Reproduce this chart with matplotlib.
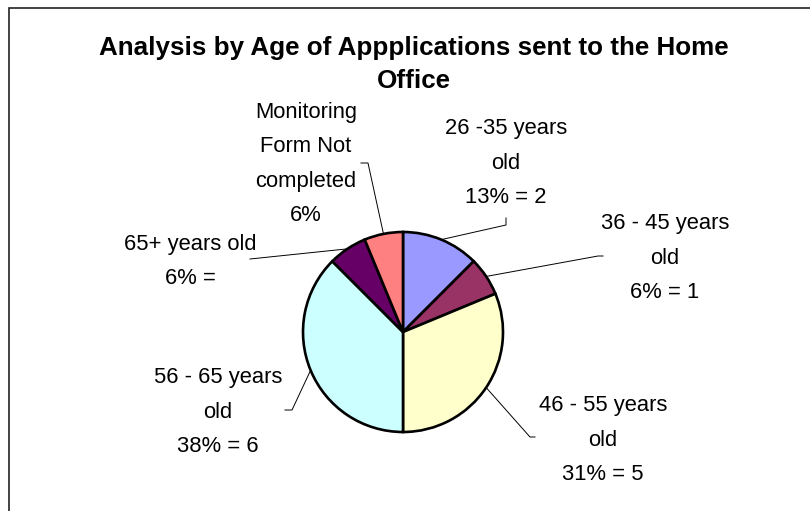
import numpy as np
import matplotlib
matplotlib.use("Agg")
import matplotlib.pyplot as plt

plt.rcParams['font.family'] = ['Liberation Sans', 'DejaVu Sans']

# data
groups = ['26 -35 years\nold', '36 - 45 years\nold', '46 - 55 years\nold',
          '56 - 65 years\nold', '65+ years old', 'Monitoring\nForm Not\ncompleted']
counts = [2, 1, 5, 6, 1, 1]
pct_text = ['13% = 2', '6% = 1', '31% = 5', '38% = 6', '6% =', '6%']
colors = ['#9999FF', '#993366', '#FFFFCC', '#CCFFFF', '#660066', '#FF8080']

title = 'Analysis by Age of Appplications sent to the Home\nOffice'

# label placement (pixels from top-left): text centre x, last baseline y,
# and the leader line elbow points
label_pos = [(506, 203), (665, 298), (603, 480), (218, 452), (190, 284), (306, 221)]
leader_pts = [[(506, 225), (506, 218)],
              [(598, 256), (603, 256)],
              [(530, 437), (535, 437)],
              [(292, 410), (285, 410)],
              [(250, 259)],
              [(368, 163), (361, 163)]]

W, H = 810, 511
fig = plt.figure(figsize=(W / 100, H / 100), dpi=100)

# pie axes: centre (403, 332), radius 100 px
cx, cy, r = 403, 332, 100
ax = fig.add_axes([(cx - r) / W, (H - cy - r) / H, 2 * r / W, 2 * r / H])
wedges, _ = ax.pie(counts, colors=colors, startangle=90, counterclock=False,
                   wedgeprops=dict(edgecolor='black', linewidth=1.9))
ax.set_xlim(-1, 1)
ax.set_ylim(-1, 1)

# overlay in pixel coords
ov = fig.add_axes([0, 0, 1, 1], zorder=5)
ov.set_xlim(0, W)
ov.set_ylim(H, 0)
ov.axis('off')
ov.patch.set_alpha(0)

# frame (cut off on right and bottom)
ov.plot([9, 9, W], [H, 8, 8], color='#222222', lw=1.2, solid_joinstyle='miter')

ov.text(414, 88, title, ha='center', va='baseline', fontsize=18.7,
        fontweight='bold', linespacing=1.45)

for w, name, pt, (tx, ty), pts in zip(wedges, groups, pct_text, label_pos, leader_pts):
    mid = np.deg2rad((w.theta1 + w.theta2) / 2)
    start = ax.transData.transform((np.cos(mid), np.sin(mid)))
    start = ov.transData.inverted().transform(start)
    xs = [start[0]] + [p[0] for p in pts]
    ys = [start[1]] + [p[1] for p in pts]
    ov.plot(xs, ys, color='black', lw=0.7)
    ov.text(tx, ty, name + '\n' + pt, ha='center', va='baseline',
            fontsize=15.8, linespacing=1.83)

fig.savefig('out.png', dpi=100)
